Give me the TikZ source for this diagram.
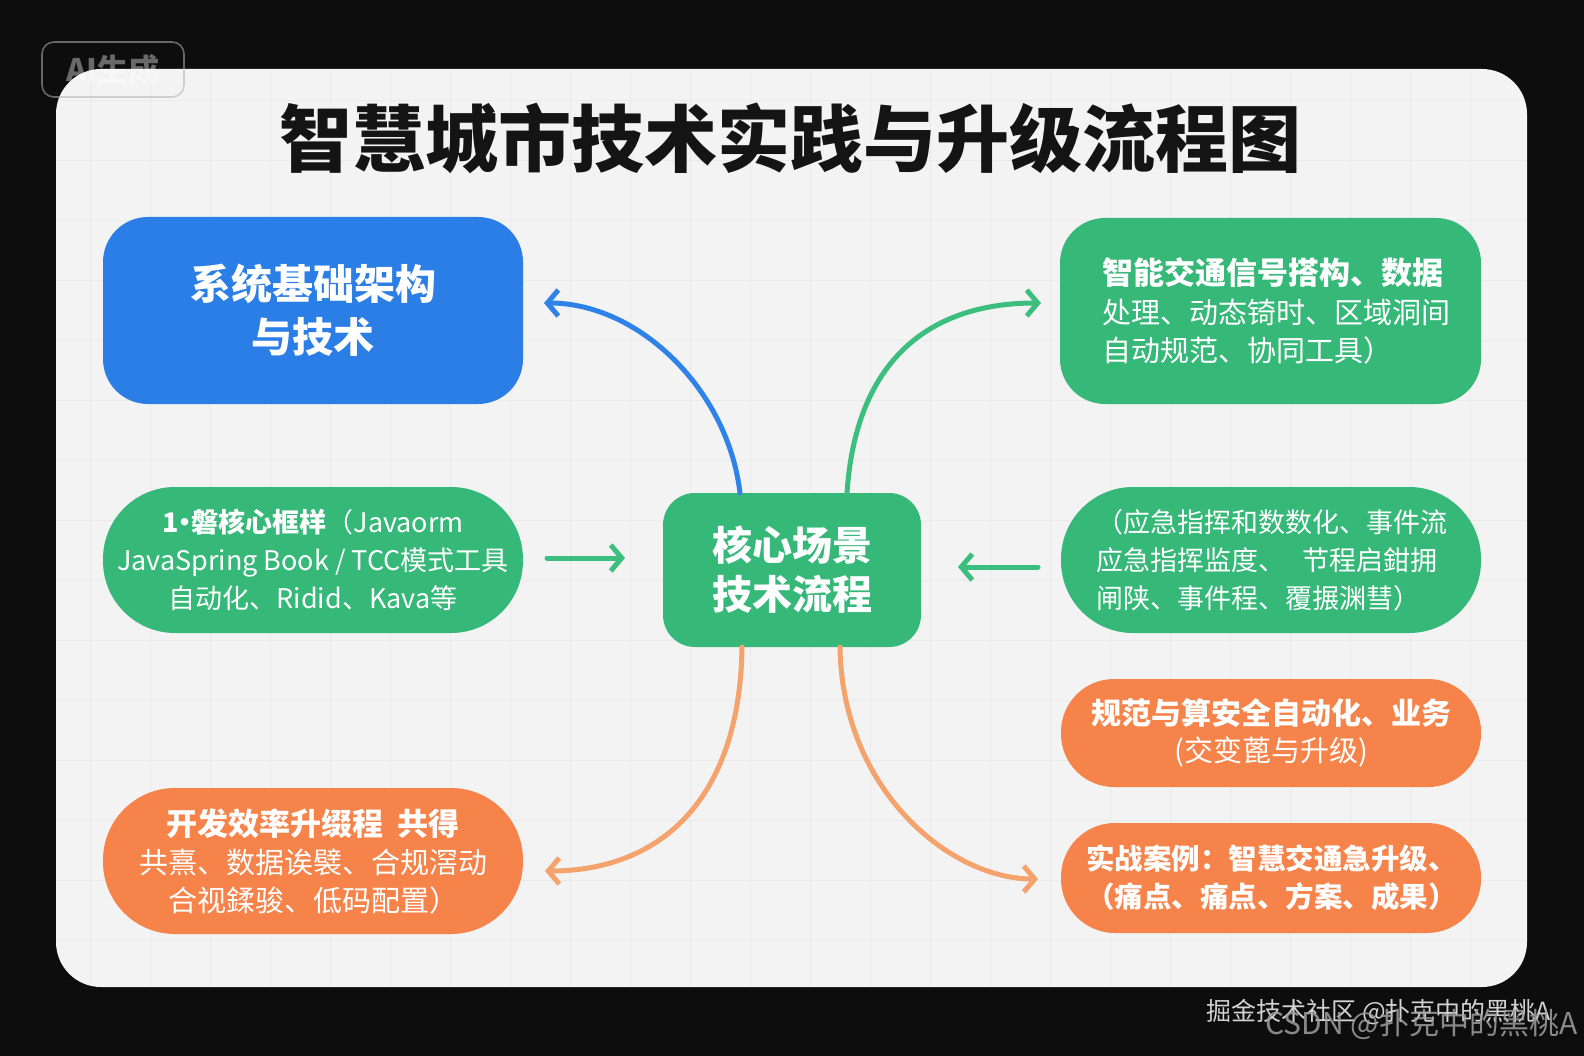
\documentclass[tikz,border=0pt]{standalone}
\usepackage{fontspec}
\setmainfont{Noto Sans CJK SC}
\usetikzlibrary{arrows.meta}
\definecolor{cardbg}{HTML}{F3F3F3}
\definecolor{gridc}{HTML}{EAEAEA}
\definecolor{cblue}{HTML}{2B7EE6}
\definecolor{cgreen}{HTML}{36B878}
\definecolor{corange}{HTML}{F5834A}
\definecolor{ablue}{HTML}{2F83E8}
\definecolor{agreen}{HTML}{3CBE7F}
\definecolor{aorange}{HTML}{F4A36C}
\definecolor{titlec}{HTML}{141414}
\tikzset{
  box/.style={rounded corners=#1, inner sep=0pt, text=white, outer sep=0pt},
  arr/.style={line width=5pt, line cap=round, -{Straight Barb[length=11pt,width=26pt,line width=5pt]}},
  bigf/.style={font=\fontsize{41}{53}\selectfont\bfseries},
  midf/.style={font=\fontsize{27}{38}\selectfont},
}
\begin{document}
\begin{tikzpicture}[x=1pt,y=-1pt]
\useasboundingbox (0,0) rectangle (1584,1056);
\fill[black!95] (0,0) rectangle (1584,1056);
% card
\fill[cardbg, rounded corners=45pt] (56,69) rectangle (1527,987);
\begin{scope}
\clip[rounded corners=45pt] (56,69) rectangle (1527,987);
\foreach \gx in {90,150,...,1520} {\draw[gridc, line width=0.7pt] (\gx,69) -- (\gx,987);}
\foreach \gy in {100,160,...,980} {\draw[gridc, line width=0.7pt] (56,\gy) -- (1527,\gy);}
\end{scope}
% badge (semi-transparent, on top of the card)
\node[draw=gray!60, draw opacity=0.55, line width=1.6pt, rounded corners=12pt, minimum width=142, minimum height=55,
      text=white, text opacity=0.38, font=\fontsize{31}{31}\selectfont\bfseries] (badge) at (113,69.5) {AI生成};
% title
\node[text=titlec, font=\fontsize{73}{80}\selectfont\bfseries] (title) at (790,138) {智慧城市技术实践与升级流程图};
% boxes
\node[box=45pt, fill=cblue, minimum width=420, minimum height=187, bigf, align=center] (base) at (313,310.5)
  {系统基础架构\\与技术};
\node[box=45pt, fill=cgreen, minimum width=421, minimum height=186, text width=336, align=left,
      font=\fontsize{29}{38.5}\selectfont] (traffic) at (1270.5,311)
  {{\fontsize{31}{38.5}\selectfont\bfseries 智能交通信号搭构、数据}\\处理、动态锜时、区域洞间\\自动规范、协同工具）};
\node[box=72pt, fill=cgreen, minimum width=420, minimum height=146, midf, align=center] (frame) at (313,560)
  {{\bfseries 1\kern-7pt·\kern-7pt 磐核心框样}（Javaorm\\JavaSpring Book / TCC模式工具\\自动化、Ridid、Kava等};
\node[box=32pt, fill=cgreen, minimum width=258, minimum height=154, align=center,
      font=\fontsize{40}{49}\selectfont\bfseries] (core) at (792,570)
  {核心场景\\技术流程};
\node[box=72pt, fill=cgreen, minimum width=420, minimum height=146, text width=350, align=left, midf] (emerg) at (1271,560)
  {（应急指挥和数数化、事件流\\应急指挥监度、\ \ 节程启鉗拥\\闸陕、事件程、覆搌渊彗）};
\node[box=53pt, fill=corange, minimum width=420, minimum height=108, align=center,
      font=\fontsize{29}{37}\selectfont] (secur) at (1271,733)
  {{\fontsize{30}{37}\selectfont\bfseries 规范与算安全自动化、业务}\\(交变蓖与升级)};
\node[box=54pt, fill=corange, minimum width=420, minimum height=110, text width=370, align=left,
      font=\fontsize{28.5}{38}\selectfont\bfseries] (case) at (1271,878)
  {实战案例：智慧交通急升级、\\（痛点、痛点、方案、成果）};
\node[box=72pt, fill=corange, minimum width=420, minimum height=146, align=center,
      font=\fontsize{29}{38}\selectfont] (dev) at (313,861)
  {{\fontsize{31}{38}\selectfont\bfseries 开发效率升缀程\ \ 共得}\\共熹、数据诶襞、合规滘动\\合视鍒骏、低码配置）};
% connectors
\draw[arr, ablue] ([xshift=-52pt]core.north) .. controls +(-12,-103) and +(95,0) .. ([xshift=21pt,yshift=7.5pt]base.east);
\draw[arr, agreen] ([xshift=55pt]core.north) .. controls +(8,-123) and +(-121,0) .. ([xshift=-19pt,yshift=8pt]traffic.west);
\draw[arr, agreen] ([xshift=24pt,yshift=2pt]frame.east) -- ([xshift=-38pt,yshift=12pt]core.west);
\draw[arr, agreen] ([xshift=-23pt,yshift=-7pt]emerg.west) -- ([xshift=37pt,yshift=3pt]core.east);
\draw[arr, aorange] ([xshift=-50pt]core.south) .. controls +(-2,153) and +(115,0) .. ([xshift=22pt,yshift=-10pt]dev.east);
\draw[arr, aorange] ([xshift=48pt]core.south) .. controls +(2,143) and +(-88,0) .. ([xshift=-23pt,yshift=-1pt]case.west);
% watermarks
\node[text=gray!35, font=\fontsize{25}{25}\selectfont, anchor=west] (wm1) at (1203,1012) {掘金技术社区 @扑克中的黑桃A};
\node[text=gray!75, opacity=0.85, font=\fontsize{30}{30}\selectfont, anchor=west] (wm2) at (1262,1024) {CSDN @扑克中的黑桃A};
\end{tikzpicture}
\end{document}
